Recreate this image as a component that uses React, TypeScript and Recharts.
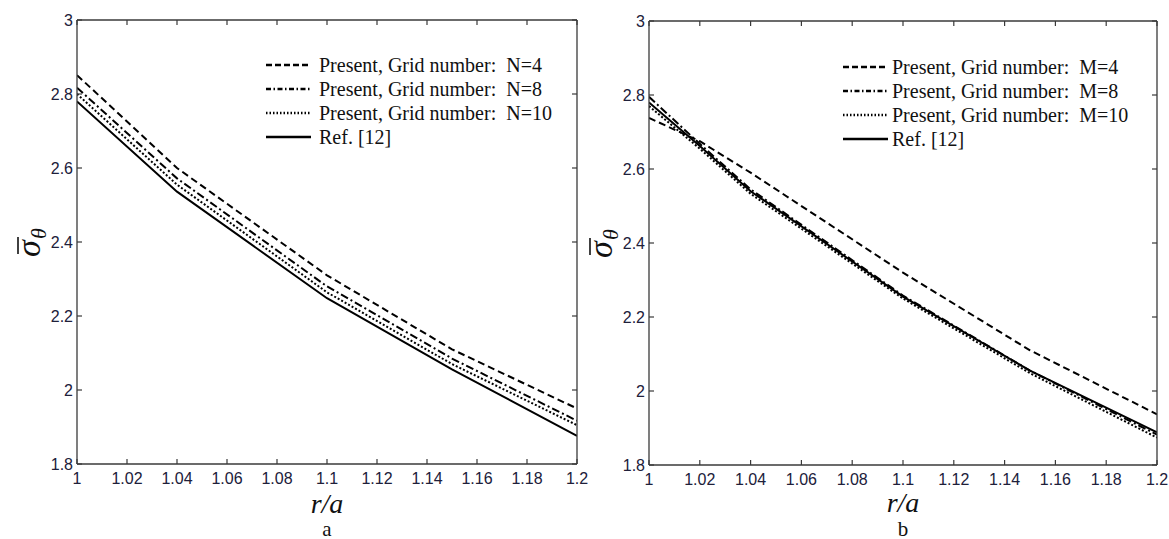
import React from 'react';
import { LineChart, Line, XAxis, YAxis, Legend } from 'recharts';

const X_TICKS = [1, 1.02, 1.04, 1.06, 1.08, 1.1, 1.12, 1.14, 1.16, 1.18, 1.2];
const Y_TICKS = [1.8, 2, 2.2, 2.4, 2.6, 2.8, 3];

// Panel a
const rA = [1.0, 1.04, 1.1, 1.15, 1.2];
const aN4 = [2.851, 2.6, 2.31, 2.11, 1.95];
const aN8 = [2.817, 2.572, 2.28, 2.085, 1.917];
const aN10 = [2.8, 2.555, 2.264, 2.07, 1.905];
const aRef = [2.78, 2.536, 2.248, 2.056, 1.876];

// Panel b
const rB = [1.0, 1.02, 1.04, 1.1, 1.15, 1.2];
const bM4 = [2.738, 2.675, 2.59, 2.32, 2.11, 1.937];
const bM8 = [2.795, 2.668, 2.545, 2.258, 2.055, 1.882];
const bM10 = [2.77, 2.655, 2.533, 2.25, 2.048, 1.874];
const bRef = [2.78, 2.662, 2.54, 2.255, 2.055, 1.888];

const LABELS_A = ['Present, Grid number:  N=4', 'Present, Grid number:  N=8', 'Present, Grid number:  N=10', 'Ref. [12]'];
const LABELS_B = ['Present, Grid number:  M=4', 'Present, Grid number:  M=8', 'Present, Grid number:  M=10', 'Ref. [12]'];

const STYLES = [
  { plot: '7 4', legend: '6 3' },
  { plot: '8 3 2 3', legend: '5 2.5 1.5 2.5' },
  { plot: '2 2', legend: '1.5 2' },
  { plot: undefined, legend: undefined },
];

const AX = '#3a3a3a';
const TICK_COLOR = '#20203a';
const FONT_TICK = '"Liberation Sans", Arial, sans-serif';
const FONT_SERIF = '"Liberation Serif", "Times New Roman", serif';
const fmt = (v: number) => String(Number(v.toFixed(2)));

const BottomTick = (p: any) => (
  <g>
    <line x1={p.x} x2={p.x} y1={p.y} y2={p.y - 5} stroke={AX} strokeWidth={1.2} />
    <text x={p.x} y={p.y + 20} textAnchor="middle" fontFamily={FONT_TICK} fontSize={16} fill={TICK_COLOR}>
      {fmt(p.payload.value)}
    </text>
  </g>
);
const TopTick = (p: any) => (
  <line x1={p.x} x2={p.x} y1={p.y} y2={p.y + 5} stroke={AX} strokeWidth={1.2} />
);
const LeftTick = (p: any) => (
  <g>
    <line x1={p.x} x2={p.x + 5} y1={p.y} y2={p.y} stroke={AX} strokeWidth={1.2} />
    <text x={p.x - 4} y={p.y + 5.5} textAnchor="end" fontFamily={FONT_TICK} fontSize={16} fill={TICK_COLOR}>
      {fmt(p.payload.value)}
    </text>
  </g>
);
const RightTick = (p: any) => (
  <line x1={p.x} x2={p.x - 5} y1={p.y} y2={p.y} stroke={AX} strokeWidth={1.2} />
);

const makeXTitle = (offset: number) => (p: any) => {
  const vb = p.viewBox || {};
  return (
    <text x={vb.x + vb.width / 2} y={vb.y + offset} textAnchor="middle" fontFamily={FONT_SERIF} fontStyle="italic" fontSize={28} fill="#111">
      r/a
    </text>
  );
};
const YTitle = (p: any) => {
  const vb = p.viewBox || {};
  const cx = vb.x - 36;
  const cy = vb.y + vb.height / 2;
  return (
    <g transform={`rotate(-90, ${cx}, ${cy})`}>
      <line x1={cx - 12} x2={cx + 5} y1={cy - 22} y2={cy - 22} stroke="#111" strokeWidth={1.6} />
      <text x={cx - 15} y={cy} fontFamily={FONT_SERIF} fontStyle="italic" fontSize={34} fill="#111">
        {'\u03C3'}
      </text>
      <text x={cx + 3} y={cy + 6} fontFamily={FONT_SERIF} fontStyle="italic" fontSize={22} fill="#111">
        {'\u03B8'}
      </text>
    </g>
  );
};

function makeLegend(labels: string[], gap: number) {
  return () => (
    <div style={{ fontFamily: FONT_SERIF, fontSize: 20, color: '#111' }}>
      {labels.map((lab, i) => (
        <div key={lab} style={{ display: 'flex', alignItems: 'center', height: 24, whiteSpace: 'pre' }}>
          <svg width={45} height={24} style={{ display: 'block' }}>
            <line x1={0} x2={45} y1={12} y2={12} stroke="#000" strokeWidth={2.4} strokeDasharray={STYLES[i].legend} />
          </svg>
          <span style={{ marginLeft: gap, lineHeight: '24px' }}>{lab}</span>
        </div>
      ))}
    </div>
  );
}

type PanelProps = {
  left: number;
  width: number;
  margin: { top: number; right: number; bottom: number; left: number };
  xs: number[];
  values: number[][];
  labels: string[];
  legendLeft: number;
  legendTop: number;
  legendGap: number;
  caption: string;
  titleOffset: number;
};

function Panel(props: PanelProps) {
  const { left, width, margin, xs, values, labels, legendLeft, legendTop, legendGap, caption, titleOffset } = props;
  const keys = ['s0', 's1', 's2', 's3'];
  const data = xs.map((x, i) => {
    const row: any = { x };
    values.forEach((v, k) => (row[keys[k]] = v[i]));
    return row;
  });
  const XT = makeXTitle(titleOffset);
  const plotCenter = margin.left + 1 + (width - margin.left - margin.right - 2) / 2;
  return (
    <div style={{ position: 'absolute', left, top: 0, width, height: 539 }}>
      <LineChart width={width} height={539} data={data} margin={margin}>
        <XAxis xAxisId="b" dataKey="x" type="number" domain={[1, 1.2]} ticks={X_TICKS} interval={0} tickSize={0} tickMargin={0} height={1}
          axisLine={{ stroke: AX, strokeWidth: 1.3 }} tickLine={false} tick={<BottomTick />} label={{ content: <XT /> } as any} allowDataOverflow />
        <XAxis xAxisId="t" orientation="top" dataKey="x" type="number" domain={[1, 1.2]} ticks={X_TICKS} interval={0} tickSize={0} tickMargin={0} height={1}
          axisLine={{ stroke: AX, strokeWidth: 1.3 }} tickLine={false} tick={<TopTick />} allowDataOverflow />
        <YAxis yAxisId="l" type="number" domain={[1.8, 3]} ticks={Y_TICKS} interval={0} tickSize={0} tickMargin={0} width={1}
          axisLine={{ stroke: AX, strokeWidth: 1.3 }} tickLine={false} tick={<LeftTick />} label={{ content: <YTitle /> } as any} allowDataOverflow />
        <YAxis yAxisId="r" orientation="right" type="number" domain={[1.8, 3]} ticks={Y_TICKS} interval={0} tickSize={0} tickMargin={0} width={1}
          axisLine={{ stroke: AX, strokeWidth: 1.3 }} tickLine={false} tick={<RightTick />} allowDataOverflow />
        <Legend layout="vertical" align="center" verticalAlign="middle" content={makeLegend(labels, legendGap)}
          wrapperStyle={{ left: legendLeft, top: legendTop, width: 330, height: 96 }} />
        {keys.map((k, i) => (
          <Line key={k} xAxisId="b" yAxisId="l" dataKey={k} name={labels[i]} type="linear" stroke="#000" strokeWidth={2}
            strokeDasharray={STYLES[i].plot} dot={false} activeDot={false} isAnimationActive={false} />
        ))}
      </LineChart>
      <div style={{ position: 'absolute', left: plotCenter - 50, width: 100, top: 520, lineHeight: '18px', textAlign: 'center', fontFamily: FONT_SERIF, fontSize: 21, color: '#111' }}>
        {caption}
      </div>
    </div>
  );
}

export default function App() {
  return (
    <div style={{ position: 'absolute', left: 0, top: 0, width: 1169, height: 539, background: '#fff' }}>
      <Panel left={0} width={590} margin={{ top: 19, right: 12, bottom: 74, left: 76 }} xs={rA} titleOffset={49}
        values={[aN4, aN8, aN10, aRef]} labels={LABELS_A} legendLeft={266} legendTop={53} legendGap={8} caption="a" />
      <Panel left={570} width={599} margin={{ top: 20, right: 11, bottom: 73, left: 78 }} xs={rB} titleOffset={47}
        values={[bM4, bM8, bM10, bRef]} labels={LABELS_B} legendLeft={273} legendTop={55} legendGap={4} caption="b" />
    </div>
  );
}
